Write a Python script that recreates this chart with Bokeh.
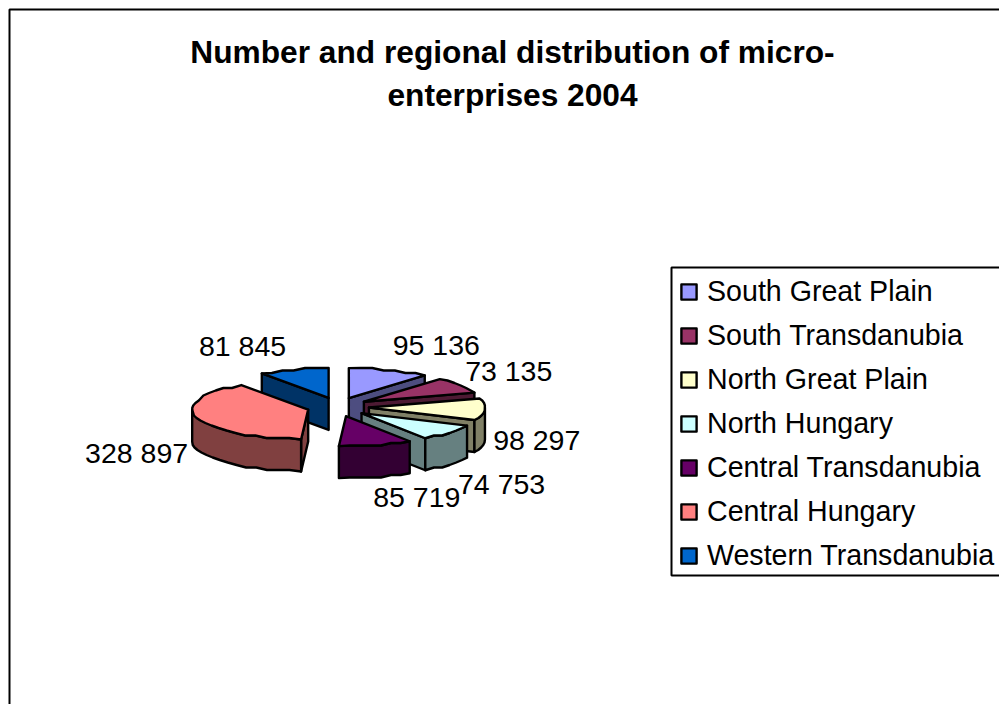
import math
from bokeh.plotting import figure
from bokeh.models import Range1d, Legend, LegendItem
from bokeh.core.properties import value
from bokeh.embed import file_html
from bokeh.resources import INLINE

# ---- data ----
regions = ["South Great Plain", "South Transdanubia", "North Great Plain", "North Hungary",
           "Central Transdanubia", "Central Hungary", "Western Transdanubia"]
enterprises = [95136, 73135, 98297, 74753, 85719, 328897, 81845]
value_labels = ["95 136", "73 135", "98 297", "74 753", "85 719", "328 897", "81 845"]
top_colors = ["#9999FF", "#993366", "#FFFFCC", "#CCFFFF", "#660066", "#FF8080", "#0066CC"]
side_colors = ["#4D4D80", "#4D1A33", "#808066", "#668080", "#330033", "#804040", "#003366"]
title_lines = ["Number and regional distribution of micro-", "enterprises 2004"]

# ---- layout (screen pixels) ----
FONT = "Liberation Sans"
CX, CY = 337.5, 406.5
RX, RY = 116.0, 30.0
DEPTH = 32.0
EXPLODE_X, EXPLODE_Y = 31.0, 9.5
label_offsets = [(47, -24.5), (48, -14), (52, 31), (52, 51), (41, 52), (-60, 35), (-51, -23)]
draw_order = [6, 0, 1, 2, 3, 4, 5]

p = figure(width=999, height=704, output_backend="svg", toolbar_location=None,
           x_range=Range1d(0, 999), y_range=Range1d(704, 0), min_border=0,
           outline_line_color=None, background_fill_color="white", border_fill_color="white")
p.axis.visible = False
p.grid.visible = False

# chart-area frame
p.line([9, 9, 999], [704, 9, 9], line_color="black", line_width=2)

total = sum(enterprises)
angles = []
a = 0.0
for v in enterprises:
    b = a + v / total * 360.0
    angles.append((a, b))
    a = b


def rim(ax, ay, th1, th2, step=6.0):
    n = max(2, int(abs(th2 - th1) / step) + 1)
    pts = []
    for i in range(n + 1):
        t = math.radians(th1 + (th2 - th1) * i / n)
        x = ax + RX * math.sin(t)
        y = ay - RY * math.cos(t)
        if 0 < i < n:  # coarse raster of the original's rim
            y = round(y / 2.5) * 2.5
        pts.append((x, y))
    return pts


def face(pts, color):
    return p.patch([q[0] for q in pts], [q[1] for q in pts], fill_color=color,
                   line_color="black", line_width=2.4, line_join="round")


legend_renderers = {}
for i in draw_order:
    th1, th2 = angles[i]
    mid = math.radians((th1 + th2) / 2)
    ax = CX + EXPLODE_X * math.sin(mid)
    ay = CY - EXPLODE_Y * math.cos(mid)
    side = side_colors[i]
    # radial walls that face the viewer
    for th, visible in ((th1, math.sin(math.radians(th1)) < -1e-6),
                        (th2, math.sin(math.radians(th2)) > 1e-6)):
        if visible:
            e = rim(ax, ay, th, th)[0]
            face([(ax, ay), e, (e[0], e[1] + DEPTH), (ax, ay + DEPTH)], side)
    # outer rim: front half only
    lo, hi = max(th1, 90.0), min(th2, 270.0)
    if hi > lo:
        arc = rim(ax, ay, lo, hi)
        face(arc + [(x, y + DEPTH) for x, y in reversed(arc)], side)
    # top
    arc = rim(ax, ay, th1, th2)
    legend_renderers[i] = face([(ax, ay)] + arc, top_colors[i])

    # value label
    rx = ax + RX * math.sin(mid)
    ry = ay - RY * math.cos(mid)
    p.text([rx + label_offsets[i][0]], [ry + label_offsets[i][1]], text=[value_labels[i]],
           text_font=value(FONT), text_font_size="28.5px", text_color="black",
           text_align="center", text_baseline="middle")

# title
for line, y in zip(title_lines, (51, 94)):
    p.text([512], [y], text=[line], text_font=value(FONT), text_font_size="31.7px",
           text_font_style="bold", text_color="black", text_align="center", text_baseline="middle")

# legend frame
p.quad(left=[671], right=[1010], top=[267], bottom=[575], fill_color="white",
       line_color="black", line_width=2)

legend = Legend(items=[LegendItem(label=regions[i], renderers=[legend_renderers[i]]) for i in range(7)],
                location=(679, 132), orientation="vertical",
                label_text_font=FONT, label_text_font_size="28.6px", label_text_color="black",
                label_standoff=9, label_height=28, label_text_line_height=1.0,
                glyph_width=19, glyph_height=19, spacing=11, margin=0, padding=8,
                border_line_color=None, background_fill_alpha=0.0)
p.add_layout(legend, "center")

open("out.html", "w").write(file_html(p, INLINE))
